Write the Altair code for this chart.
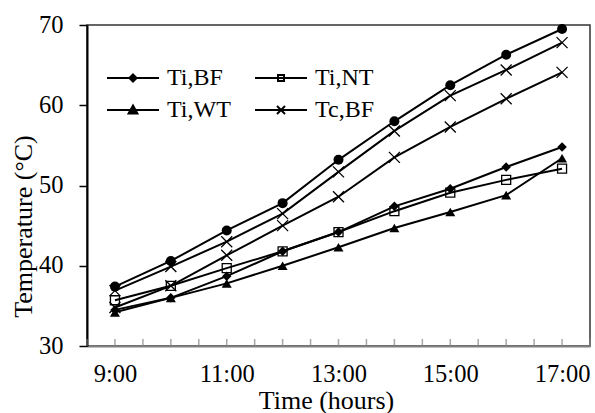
import altair as alt
import pandas as pd

hours = [9, 10, 11, 12, 13, 14, 15, 16, 17]
label_hours = [9, 11, 13, 15, 17]
tick_positions = [8.5, 9.0, 9.5, 10.0, 10.5, 11.0, 11.5, 12.0, 12.5, 13.0, 13.5,
                  14.0, 14.5, 15.0, 15.5, 16.0, 16.5, 17.0, 17.5]

# series
s_circle = [37.4, 40.6, 44.4, 47.8, 53.2, 58.0, 62.5, 66.3, 69.5]   # unlabelled, filled circles
s_x_upper = [36.9, 39.9, 43.0, 46.5, 51.7, 56.8, 61.2, 64.4, 67.8]  # unlabelled, x markers
ti_bf = [34.5, 36.0, 38.7, 41.8, 44.2, 47.4, 49.6, 52.3, 54.8]      # diamonds
ti_nt = [35.7, 37.5, 39.7, 41.8, 44.2, 46.8, 49.1, 50.7, 52.1]      # open squares
ti_wt = [34.2, 36.0, 37.8, 40.0, 42.3, 44.7, 46.7, 48.8, 53.4]      # triangles
tc_bf = [34.8, 37.5, 41.3, 45.0, 48.6, 53.5, 57.3, 60.8, 64.1]      # x markers

series = [
    ("Tc,NT", "circle", s_circle),
    ("Tc,WT", "x", s_x_upper),
    ("Ti,BF", "diamond", ti_bf),
    ("Ti,NT", "square", ti_nt),
    ("Ti,WT", "triangle", ti_wt),
    ("Tc,BF", "x", tc_bf),
]
rows = []
for name, marker, vals in series:
    for h, v in zip(hours, vals):
        rows.append({"series": name, "marker": marker, "hour": h, "temp": v})
df = pd.DataFrame(rows)

# legend entries (column-major order gives rows: Ti,BF Ti,NT / Ti,WT Tc,BF)
legend_names = ["Ti,BF", "Ti,WT", "Ti,NT", "Tc,BF"]
legend_paths = [
    "M-6.5,0H6.5M0,-0.9L0.9,0L0,0.9L-0.9,0Z",
    "M-6.5,0H6.5M0,-1.1L1.1,0.85L-1.1,0.85Z",
    "M-6.5,0H6.5M-0.75,-0.75H0.75V0.75H-0.75Z",
    "M-6.5,0H6.5M-1,-1L1,1M-1,1L1,-1",
]
legend_fills = ["black", "black", "transparent", "transparent"]
legend_strokes = ["black", "black", "black", "black"]

FONT = "Liberation Serif"

x_enc = alt.X(
    "hour:Q",
    scale=alt.Scale(domain=[8.5, 17.5], nice=False, zero=False),
    axis=alt.Axis(
        values=label_hours,
        labelExpr="datum.value + ':00'",
        ticks=False,
        grid=False,
        domainColor="#808080",
        domainWidth=2,
        labelFont=FONT,
        labelFontSize=24.5,
        labelColor="black",
        labelPadding=16,
        labelFlush=False,
        title="Time (hours)",
        titleFont=FONT,
        titleFontSize=26,
        titleFontWeight="normal",
        titleColor="black",
        titleX=239,
        titleY=62,
        titleBaseline="alphabetic",
        titleAlign="center",
    ),
)
y_enc = alt.Y(
    "temp:Q",
    scale=alt.Scale(domain=[30, 70], nice=False, zero=False),
    axis=alt.Axis(
        values=[30, 40, 50, 60, 70],
        grid=False,
        tickSize=8,
        tickColor="black",
        tickWidth=1.5,
        domainColor="black",
        domainWidth=2,
        labelFont=FONT,
        labelFontSize=24.5,
        labelColor="black",
        labelPadding=16,
        labelFlush=False,
        title="Temperature (°C)",
        titleFont=FONT,
        titleFontSize=26,
        titleFontWeight="normal",
        titleColor="black",
        titleX=-64,
        titleY=201,
        titleAngle=270,
        titleBaseline="middle",
        titleAlign="center",
    ),
)

lines = alt.Chart(df).mark_line(color="black", strokeWidth=2).encode(
    x=x_enc, y=y_enc, detail="series:N"
)

def pts(marker, **kw):
    return alt.Chart(df[df["marker"] == marker]).mark_point(opacity=1, **kw).encode(
        x="hour:Q", y="temp:Q"
    )

p_circle = pts("circle", shape="circle", filled=True, color="black", size=100)
p_diamond = pts("diamond", shape="diamond", filled=True, color="black", size=90)
p_square = pts("square", shape="square", filled=False, color="black", size=81,
               strokeWidth=1.3)
p_tri = pts("triangle", shape="triangle-up", filled=True, color="black", size=100)
p_x = pts("x", shape="M-1,-1L1,1M-1,1L1,-1", filled=False, color="black", size=121,
          strokeWidth=1.3)

ticks_df = pd.DataFrame({"tick": tick_positions})
ticks = alt.Chart(ticks_df).mark_tick(
    orient="vertical", color="#808080", thickness=1.5, size=7, yOffset=-3.5
).encode(x="tick:Q", y=alt.datum(30))

leg = alt.Legend(
    title=None,
    orient="none",
    legendX=34,
    legendY=41,
    columns=2,
    direction="vertical",
    labelFont=FONT,
    labelFontSize=24,
    labelColor="black",
    labelOffset=22,
    columnPadding=20,
    rowPadding=8,
    symbolSize=64,
    symbolOpacity=1,
    symbolStrokeColor="black",
    symbolStrokeWidth=2,
    padding=0,
)
legend_layer = alt.Chart(df[df["series"].isin(legend_names)]).mark_point(
    opacity=0, filled=False, size=64, strokeWidth=2
).encode(
    x="hour:Q",
    y="temp:Q",
    shape=alt.Shape("series:N", scale=alt.Scale(domain=legend_names, range=legend_paths), legend=leg),
    fill=alt.Fill("series:N", scale=alt.Scale(domain=legend_names, range=legend_fills), legend=leg),
    stroke=alt.Stroke("series:N", scale=alt.Scale(domain=legend_names, range=legend_strokes), legend=leg),
)

chart = alt.layer(lines, ticks, p_circle, p_diamond, p_square, p_tri, p_x, legend_layer).properties(
    width=503,
    height=321,
    padding={"left": 87, "top": 25, "right": 5, "bottom": 67},
    autosize=alt.AutoSizeParams(type="none"),
    background="white",
).configure_view(stroke="#333333", strokeWidth=1.5)

chart.save("out.html", embed_options={"renderer": "svg", "actions": False})
